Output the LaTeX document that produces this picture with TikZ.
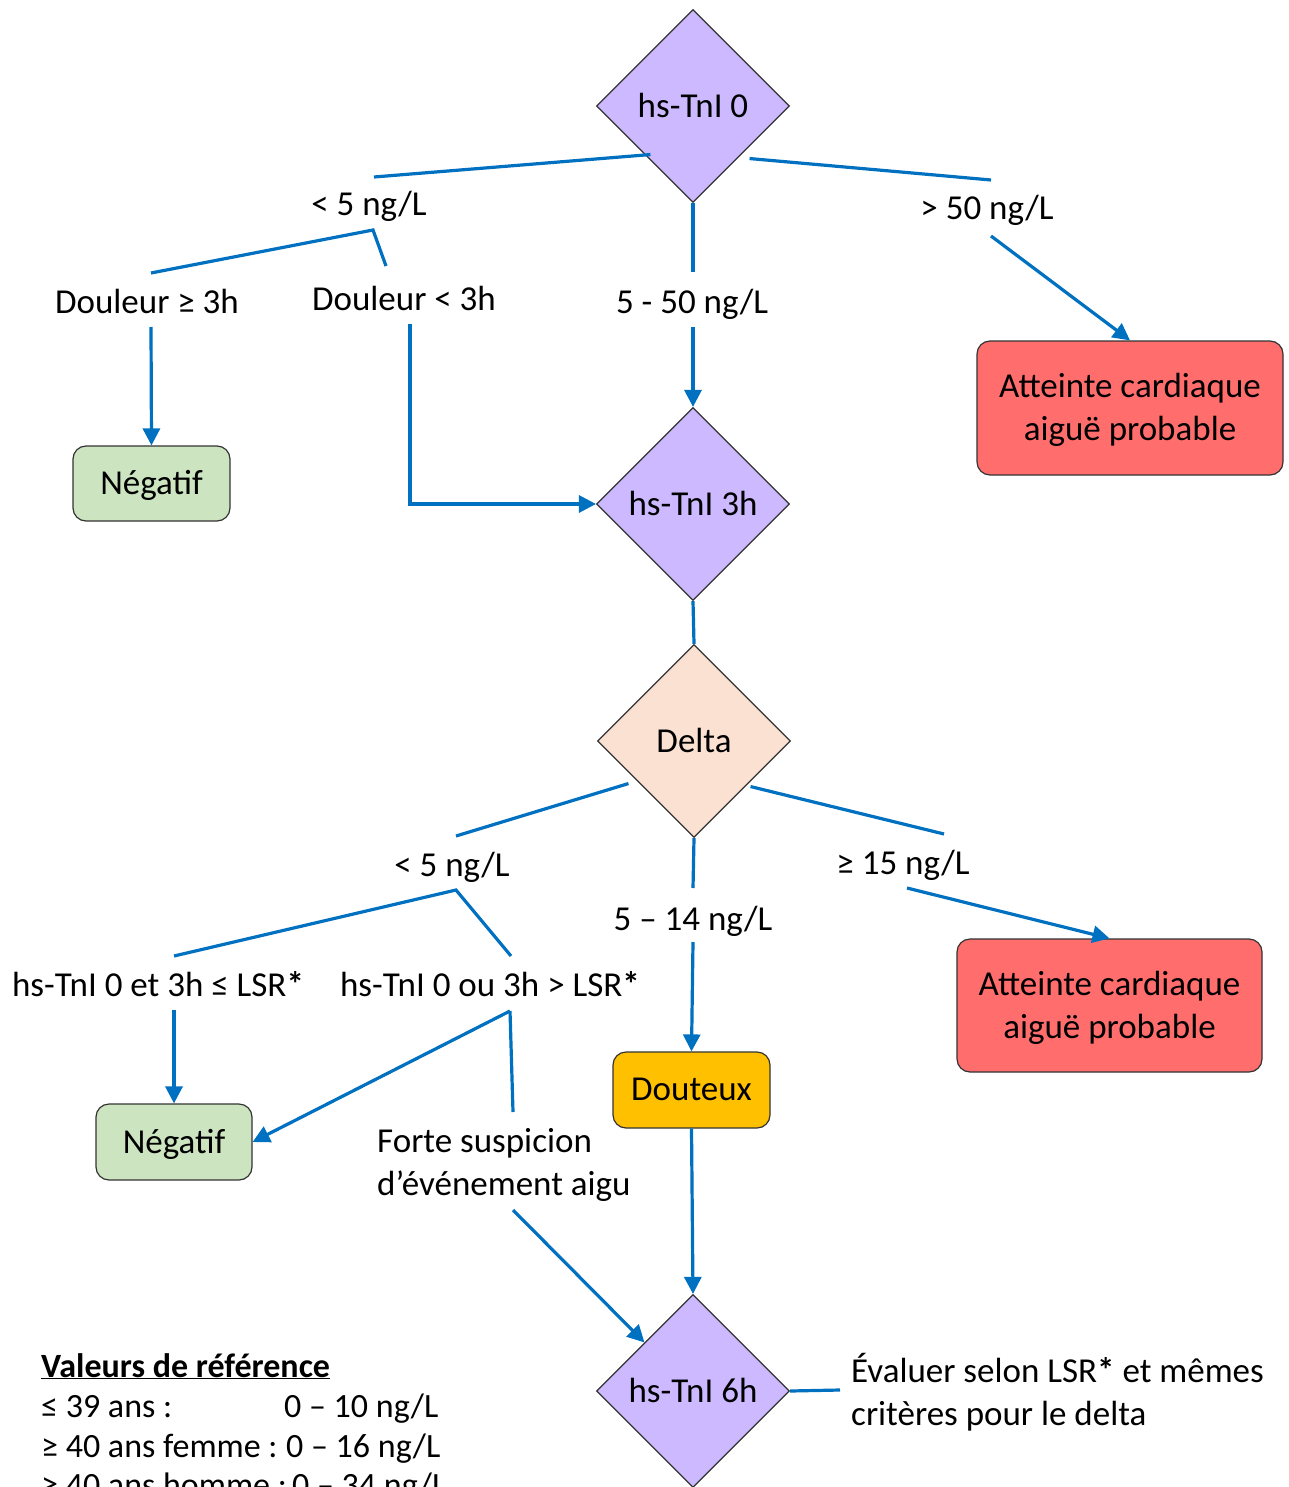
\documentclass[tikz,border=0pt]{standalone}
\usepackage{fontspec}
\setmainfont{Carlito}
\usetikzlibrary{shapes.geometric,arrows.meta,calc}
\definecolor{lnblue}{HTML}{0070C0}
\definecolor{lav}{HTML}{CCB9FF}
\definecolor{peach}{HTML}{FBE1D1}
\definecolor{lgreen}{HTML}{CCE5C0}
\definecolor{lred}{HTML}{FF6D6D}
\definecolor{gold}{HTML}{FFC000}
\newcommand{\bstar}{\textbf{*}}
\begin{document}
\begin{tikzpicture}[x=1pt,y=-1pt,
  every node/.style={font=\fontsize{35}{43}\selectfont},
  dia/.style={diamond, aspect=1, draw=black!80, line width=1.2pt, minimum size=193pt, inner sep=0pt, text depth=2pt},
  box/.style={rectangle, rounded corners=13pt, draw=black!80, line width=1.2pt, align=center, inner sep=0pt, text depth=2pt},
  lbl/.style={inner sep=0pt, anchor=base},
  lblw/.style={inner sep=0pt, anchor=base west},
  leg/.style={lblw, font=\fontsize{34}{40}\selectfont},
  conn/.style={draw=lnblue, line width=3.2pt},
  arr/.style={conn, -{Triangle[length=17pt,width=17pt]}}
]
\clip (0,0) rectangle (1288,1487);
\fill[white] (0,0) rectangle (1288,1487);

% decision nodes
\node[dia, fill=lav] (D0) at (693,106) {hs-TnI 0};
\node[dia, fill=lav] (D3) at (693,504) {hs-TnI 3h};
\node[dia, fill=peach] (DL) at (694,741) {Delta};
\node[dia, fill=lav] (D6) at (693,1391) {hs-TnI 6h};

% result boxes
\node[box, fill=lgreen, minimum width=157pt, minimum height=75pt] (N1) at (151.5,483.5) {Négatif};
\node[box, fill=lred, minimum width=306pt, minimum height=134pt] (A1) at (1130,408) {Atteinte cardiaque\\aiguë probable};
\node[box, fill=lred, minimum width=305pt, minimum height=133pt] (A2) at (1109.5,1005.5) {Atteinte cardiaque\\aiguë probable};
\node[box, fill=gold, minimum width=157pt, minimum height=76pt] (DT) at (691.5,1090) {Douteux};
\node[box, fill=lgreen, minimum width=156pt, minimum height=76pt] (N2) at (174,1142) {Négatif};

% labels
\node[lbl] (L1) at (369,216) {< 5 ng/L};
\node[lbl] (L2) at (987,220) {> 50 ng/L};
\node[lbl] (L3) at (147,313) {Douleur ≥ 3h};
\node[lbl] (L4) at (404,311) {Douleur < 3h};
\node[lbl] (L5) at (692,313) {5 - 50 ng/L};
\node[lbl] (L6) at (452,876) {< 5 ng/L};
\node[lbl] (L7) at (903,874) {≥ 15 ng/L};
\node[lbl] (L8) at (693,930) {5 – 14 ng/L};
\node[lbl] (L9) at (158,996) {hs-TnI 0 et 3h ≤ LSR\bstar};
\node[lbl] (L10) at (490,996) {hs-TnI 0 ou 3h > LSR\bstar};
\node[lblw] (L11) at (377,1152) {Forte suspicion};
\node[lblw] (L12) at (377,1195) {d’événement aigu};
\node[lblw] (L13) at (851,1382) {Évaluer selon LSR\bstar{} et mêmes};
\node[lblw] (L14) at (851,1425) {critères pour le delta};

% legend
\node[leg] (G0) at (41,1377) {\textbf{\underline{Valeurs de référence}}};
\node[leg] (G1a) at (41,1417) {≤ 39 ans :};
\node[leg] (G1b) at (284,1417) {0 – 10 ng/L};
\node[leg] (G2a) at (41,1457) {≥ 40 ans femme :};
\node[leg] (G2b) at (286,1457) {0 – 16 ng/L};
\node[leg] (G3a) at (41,1496) {≥ 40 ans homme :};
\node[leg] (G3b) at (292,1496) {0 – 34 ng/L};

% connector points
\coordinate (a1) at (374,177);
\coordinate (a2) at (991,180);
\coordinate (a3) at (693,272);
\coordinate (a4) at (991,236);
\coordinate (a5) at (693,327);
\coordinate (b1) at (151,273);
\coordinate (b2) at (373,230);
\coordinate (b3) at (386,266);
\coordinate (b4) at (151,327);
\coordinate (b5) at (410,324);
\coordinate (d1) at (456,836);
\coordinate (d2) at (944,834);
\coordinate (d3) at (693,888);
\coordinate (d4) at (907,888);
\coordinate (d5) at (693,942);
\coordinate (e1) at (174,956);
\coordinate (e2) at (456,890);
\coordinate (e3) at (511,956);
\coordinate (e4) at (174,1010);
\coordinate (e5) at (510,1011);
\coordinate (e6) at (513,1112);
\coordinate (e7) at (513,1210);
\coordinate (e8) at (840,1390);

% connectors
\draw[conn] ($(D0.south west)+(6,0)$) -- (a1);
\draw[conn] ($(D0.south east)+(8,4)$) -- (a2);
\draw[conn] (D0.south) -- (a3);
\draw[arr] (a4) -- (A1.north);
\draw[arr] (a5) -- (D3.north);
\draw[conn] (b1) -- (b2) -- (b3);
\draw[arr] (b4) -- (N1.north);
\draw[arr] (b5) |- (D3.west);
\draw[conn] (D3.south) -- (DL.north);
\draw[conn] ($(DL.south west)+(-17,-6)$) -- (d1);
\draw[conn] ($(DL.south east)+(8,-3)$) -- (d2);
\draw[conn] (DL.south) -- (d3);
\draw[arr] (d4) -- (A2.north);
\draw[arr] (d5) -- (DT.north);
\draw[conn] (e1) -- (e2) -- (e3);
\draw[arr] (e4) -- (N2.north);
\draw[arr] (e5) -- (N2.east);
\draw[conn] (e5) -- (e6);
\draw[arr] (e7) -- (D6.north west);
\draw[arr] (DT.south) -- (D6.north);
\draw[conn] (D6.east) -- (e8);
\end{tikzpicture}
\end{document}
